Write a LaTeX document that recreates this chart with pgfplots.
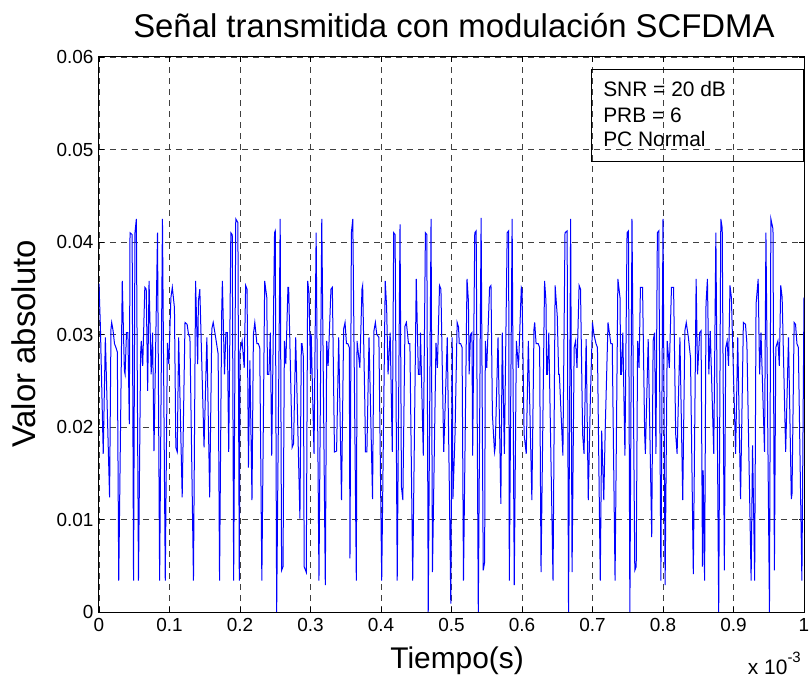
\documentclass[border=0pt]{standalone}
\usepackage{pgfplots}
\pgfplotsset{compat=1.18}
\usepackage{fontspec}
\setmainfont{Liberation Sans}
\begin{document}
\begin{tikzpicture}
\begin{axis}[
  name=ax,
  scale only axis,
  width=705bp, height=555bp,
  xmin=0, xmax=1, ymin=0, ymax=0.06,
  clip mode=individual,
  xtick={0,0.1,0.2,0.3,0.4,0.5,0.6,0.7,0.8,0.9,1},
  xticklabels={0,0.1,0.2,0.3,0.4,0.5,0.6,0.7,0.8,0.9,1},
  ytick={0,0.01,0.02,0.03,0.04,0.05,0.06},
  yticklabels={0,0.01,0.02,0.03,0.04,0.05,0.06},
  scaled x ticks=false, scaled y ticks=false,
  tick align=inside,
  major tick length=5bp,
  tick style={black, line width=0.6bp},
  axis line style={black, line width=1bp},
  grid=major,
  major grid style={black!75, line width=0.6bp, dash pattern=on 6bp off 5bp},
  tick label style={font=\fontsize{19}{22}\selectfont},
  xticklabel style={yshift=-3bp},
  yticklabel style={xshift=-2bp},
  title={Señal transmitida con modulación SCFDMA},
  title style={font=\fontsize{33}{38}\selectfont, at={(axis description cs:0.5035,1.024)}, anchor=base},
  xlabel={Tiempo(s)},
  xlabel style={font=\fontsize{30}{36}\selectfont, at={(axis description cs:0.508,-0.101)}, anchor=base},
  ylabel={Valor absoluto},
  ylabel style={font=\fontsize{33}{38}\selectfont, at={(axis description cs:-0.0894,0.483)}, anchor=base},
]
\addplot[color={rgb,255:red,0;green,0;blue,255}, line width=1bp] table {
0.000 0.0355
0.002 0.0308
0.006 0.0171
0.009 0.0297
0.015 0.0124
0.017 0.0306
0.018 0.0313
0.020 0.0304
0.022 0.0290
0.024 0.0286
0.026 0.0281
0.028 0.0034
0.033 0.0358
0.036 0.0261
0.037 0.0257
0.039 0.0302
0.041 0.0302
0.043 0.0203
0.044 0.0410
0.047 0.0408
0.049 0.0034
0.051 0.0410
0.053 0.0425
0.056 0.0034
0.059 0.0279
0.060 0.0293
0.062 0.0266
0.065 0.0351
0.067 0.0349
0.069 0.0239
0.071 0.0358
0.074 0.0257
0.076 0.0302
0.078 0.0174
0.083 0.0410
0.086 0.0034
0.090 0.0425
0.094 0.0034
0.097 0.0291
0.099 0.0268
0.102 0.0340
0.104 0.0351
0.107 0.0329
0.109 0.0178
0.111 0.0173
0.113 0.0297
0.118 0.0124
0.122 0.0313
0.125 0.0311
0.127 0.0300
0.129 0.0297
0.134 0.0034
0.137 0.0358
0.140 0.0268
0.141 0.0336
0.143 0.0349
0.149 0.0178
0.153 0.0297
0.157 0.0124
0.160 0.0306
0.162 0.0313
0.165 0.0299
0.169 0.0279
0.171 0.0034
0.174 0.0322
0.175 0.0358
0.178 0.0257
0.180 0.0302
0.182 0.0302
0.184 0.0173
0.187 0.0410
0.189 0.0408
0.191 0.0034
0.194 0.0425
0.197 0.0421
0.199 0.0034
0.200 0.0282
0.203 0.0293
0.206 0.0264
0.208 0.0353
0.210 0.0349
0.212 0.0156
0.214 0.0272
0.217 0.0121
0.219 0.0300
0.221 0.0313
0.224 0.0290
0.226 0.0290
0.228 0.0286
0.231 0.0034
0.235 0.0358
0.238 0.0340
0.239 0.0257
0.241 0.0257
0.243 0.0302
0.245 0.0169
0.249 0.0410
0.250 0.0412
0.252 0.0000
0.257 0.0425
0.259 0.0045
0.261 0.0049
0.263 0.0293
0.265 0.0268
0.268 0.0351
0.269 0.0351
0.274 0.0178
0.276 0.0182
0.279 0.0297
0.285 0.0101
0.287 0.0290
0.288 0.0290
0.290 0.0275
0.291 0.0049
0.294 0.0043
0.296 0.0358
0.298 0.0344
0.300 0.0257
0.301 0.0300
0.305 0.0171
0.308 0.0410
0.312 0.0034
0.316 0.0425
0.321 0.0029
0.323 0.0293
0.325 0.0266
0.329 0.0349
0.331 0.0351
0.334 0.0173
0.337 0.0174
0.340 0.0297
0.344 0.0121
0.347 0.0306
0.349 0.0313
0.351 0.0290
0.353 0.0290
0.355 0.0286
0.356 0.0058
0.358 0.0410
0.360 0.0425
0.365 0.0034
0.366 0.0293
0.370 0.0264
0.373 0.0349
0.374 0.0353
0.377 0.0228
0.378 0.0173
0.380 0.0173
0.383 0.0297
0.388 0.0122
0.390 0.0304
0.392 0.0313
0.394 0.0300
0.397 0.0297
0.401 0.0034
0.406 0.0358
0.408 0.0329
0.410 0.0257
0.413 0.0302
0.416 0.0173
0.418 0.0410
0.420 0.0408
0.423 0.0034
0.427 0.0419
0.429 0.0135
0.431 0.0121
0.434 0.0309
0.436 0.0313
0.439 0.0290
0.441 0.0290
0.445 0.0034
0.450 0.0360
0.453 0.0257
0.455 0.0257
0.456 0.0302
0.460 0.0169
0.463 0.0410
0.465 0.0408
0.467 0.0000
0.471 0.0425
0.473 0.0043
0.478 0.0291
0.480 0.0264
0.483 0.0353
0.485 0.0349
0.489 0.0173
0.494 0.0297
0.497 0.0131
0.499 0.0009
0.501 0.0297
0.502 0.0122
0.505 0.0192
0.508 0.0313
0.510 0.0308
0.511 0.0290
0.513 0.0290
0.515 0.0286
0.517 0.0034
0.522 0.0360
0.524 0.0336
0.525 0.0257
0.527 0.0300
0.529 0.0302
0.530 0.0169
0.533 0.0410
0.535 0.0412
0.538 0.0000
0.542 0.0426
0.545 0.0045
0.547 0.0054
0.548 0.0293
0.550 0.0264
0.554 0.0351
0.556 0.0353
0.558 0.0214
0.561 0.0173
0.562 0.0178
0.566 0.0297
0.570 0.0117
0.572 0.0302
0.575 0.0171
0.579 0.0410
0.581 0.0412
0.582 0.0034
0.586 0.0425
0.589 0.0029
0.592 0.0293
0.595 0.0264
0.599 0.0351
0.600 0.0349
0.603 0.0192
0.606 0.0171
0.609 0.0293
0.614 0.0121
0.617 0.0306
0.618 0.0313
0.620 0.0290
0.623 0.0290
0.625 0.0286
0.627 0.0043
0.632 0.0358
0.634 0.0336
0.635 0.0257
0.636 0.0257
0.638 0.0302
0.644 0.0034
0.647 0.0353
0.650 0.0320
0.652 0.0257
0.653 0.0257
0.658 0.0169
0.661 0.0410
0.664 0.0412
0.666 0.0000
0.669 0.0425
0.671 0.0043
0.674 0.0286
0.676 0.0293
0.678 0.0264
0.681 0.0353
0.683 0.0349
0.686 0.0192
0.688 0.0171
0.691 0.0295
0.694 0.0121
0.697 0.0232
0.700 0.0313
0.702 0.0300
0.705 0.0290
0.707 0.0286
0.711 0.0034
0.713 0.0196
0.714 0.0171
0.716 0.0121
0.718 0.0196
0.722 0.0313
0.726 0.0290
0.728 0.0290
0.732 0.0034
0.736 0.0360
0.739 0.0340
0.740 0.0257
0.741 0.0257
0.743 0.0302
0.746 0.0169
0.749 0.0410
0.751 0.0412
0.753 0.0000
0.756 0.0425
0.760 0.0045
0.762 0.0049
0.764 0.0293
0.766 0.0264
0.768 0.0351
0.771 0.0351
0.774 0.0192
0.775 0.0171
0.779 0.0295
0.784 0.0081
0.786 0.0293
0.788 0.0302
0.790 0.0171
0.792 0.0410
0.794 0.0412
0.797 0.0034
0.800 0.0425
0.803 0.0029
0.806 0.0293
0.809 0.0264
0.812 0.0351
0.815 0.0351
0.818 0.0192
0.820 0.0171
0.824 0.0297
0.828 0.0121
0.831 0.0304
0.833 0.0313
0.836 0.0297
0.839 0.0275
0.843 0.0041
0.847 0.0360
0.849 0.0257
0.852 0.0302
0.854 0.0304
0.856 0.0049
0.857 0.0153
0.859 0.0034
0.861 0.0333
0.863 0.0360
0.865 0.0257
0.867 0.0304
0.872 0.0171
0.875 0.0410
0.879 0.0000
0.882 0.0425
0.884 0.0415
0.887 0.0045
0.889 0.0286
0.891 0.0293
0.893 0.0266
0.895 0.0353
0.897 0.0340
0.903 0.0171
0.906 0.0297
0.910 0.0122
0.914 0.0313
0.917 0.0311
0.919 0.0290
0.925 0.0034
0.927 0.0180
0.929 0.0088
0.930 0.0034
0.932 0.0333
0.935 0.0360
0.937 0.0257
0.939 0.0302
0.944 0.0173
0.946 0.0410
0.951 0.0000
0.953 0.0425
0.956 0.0414
0.958 0.0045
0.960 0.0286
0.963 0.0293
0.965 0.0266
0.967 0.0353
0.969 0.0340
0.974 0.0173
0.978 0.0297
0.982 0.0122
0.983 0.0128
0.986 0.0313
0.988 0.0311
0.990 0.0290
0.992 0.0286
0.997 0.0034
1.000 0.0340
};
\draw[black, line width=0.8bp, fill=none] (axis description cs:0.699,0.811) rectangle (axis description cs:0.9986,0.978);
\node[anchor=base west, font=\fontsize{21}{24}\selectfont, inner sep=0pt] at (axis description cs:0.715,0.929) {SNR = 20 dB};
\node[anchor=base west, font=\fontsize{21}{24}\selectfont, inner sep=0pt] at (axis description cs:0.715,0.882) {PRB = 6};
\node[anchor=base west, font=\fontsize{21}{24}\selectfont, inner sep=0pt] at (axis description cs:0.715,0.838) {PC Normal};
\end{axis}
\node[anchor=base east, font=\fontsize{21}{24}\selectfont, inner sep=0pt] at ([shift={(-3bp,-62bp)}]ax.south east) {x 10\raisebox{0.55em}{\fontsize{15}{17}\selectfont -3}};
\pgfresetboundingbox
\path[use as bounding box] ([shift={(-99bp,-70bp)}]ax.south west) rectangle ([shift={(6bp,57bp)}]ax.north east);
\end{tikzpicture}
\end{document}
